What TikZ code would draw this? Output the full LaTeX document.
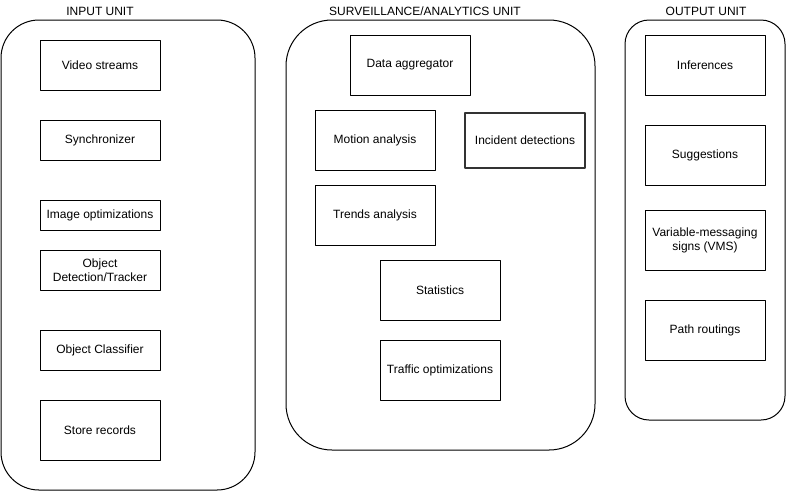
\documentclass[tikz,border=0pt]{standalone}
\usepackage{fontspec}
\setmainfont{Liberation Sans}
\usetikzlibrary{positioning}

\begin{document}
\begin{tikzpicture}[line cap=round,line join=round,x=1pt,y=-1pt,
    unit/.style={draw=black,line width=1pt},
    title/.style={font=\fontsize{12}{14}\selectfont},
    block/.style={draw=black,line width=1pt,minimum width=120pt,align=center,
        inner sep=1pt,font=\fontsize{12}{14}\selectfont},
    thickblock/.style={block,draw=black!80,line width=2pt}]
    \useasboundingbox (0,0) rectangle (786,491);
    % units
    \node[unit,rounded corners=38pt,minimum width=254pt,minimum height=470pt] (input) at (128,255) {};
    \node[unit,rounded corners=46pt,minimum width=309pt,minimum height=430pt] (analytics) at (440.5,235) {};
    \node[unit,rounded corners=24pt,minimum width=160pt,minimum height=400pt] (output) at (705,220) {};
    \node[title] (inputtitle) at (100,11) {INPUT UNIT};
    \node[title] (analyticstitle) at (425,11) {SURVEILLANCE/ANALYTICS UNIT};
    \node[title] (outputtitle) at (706,11) {OUTPUT UNIT};
    % input unit
    \node[block,minimum height=50pt] (video) at (100,65) {Video streams};
    \node[block,minimum height=40pt] (sync) at (100,140) {Synchronizer};
    \node[block,minimum height=30pt] (imgopt) at (100,215) {Image optimizations};
    \node[block,minimum height=40pt] (detect) at (100,270) {Object\\Detection/Tracker};
    \node[block,minimum height=40pt] (classify) at (100,350) {Object Classifier};
    \node[block,minimum height=60pt] (store) at (100,430) {Store records};
    % surveillance/analytics unit
    \node[block,minimum height=60pt] (aggregator) at (410,65) {Data aggregator};
    \node[block,minimum height=60pt] (motion) at (375,140) {Motion analysis};
    \node[thickblock,minimum height=55pt] (incident) at (525,140) {Incident detections};
    \node[block,minimum height=60pt] (trends) at (375,215) {Trends analysis};
    \node[block,minimum height=60pt] (stats) at (440,290) {Statistics};
    \node[block,minimum height=60pt] (traffic) at (440,370) {Traffic optimizations};
    % output unit
    \node[block,minimum height=60pt] (inferences) at (705,65) {Inferences};
    \node[block,minimum height=60pt] (suggest) at (705,155) {Suggestions};
    \node[block,minimum height=60pt] (vms) at (705,240) {Variable-messaging\\signs (VMS)};
    \node[block,minimum height=60pt] (routing) at (705,330) {Path routings};
\end{tikzpicture}
\end{document}
